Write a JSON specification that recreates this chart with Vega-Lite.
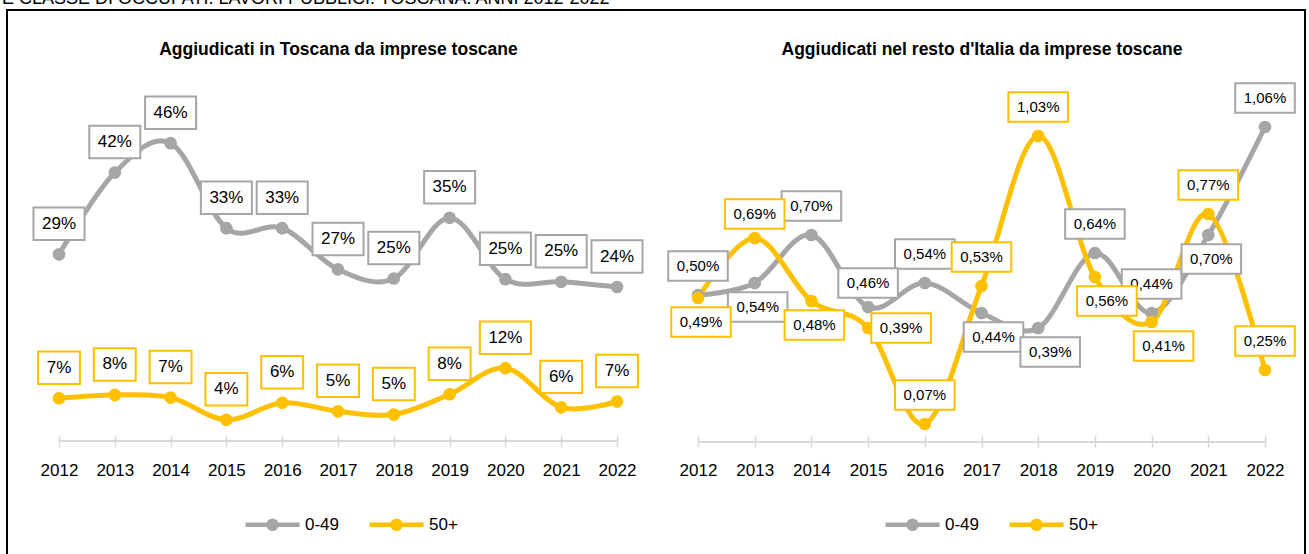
{
  "$schema": "https://vega.github.io/schema/vega-lite/v6.json",
  "autosize": "none",
  "width": 1298,
  "height": 548,
  "padding": {"left": 7, "top": 10, "right": 4, "bottom": 0},
  "background": "white",
  "numberFormat": "d",
  "config": {
    "view": {"stroke": "#000000", "strokeWidth": 2},
    "font": "Liberation Sans",
    "axisX": {
      "orient": "bottom",
      "offset": -123, "domain": false, "ticks": true, "tickSize": 12, "tickColor": "#d9d9d9", "tickWidth": 1.5,
      "tickCount": 11, "labelFontSize": 17, "labelFont": "Liberation Sans", "labelColor": "#000000",
      "labelPadding": 15, "labelFlush": false, "labelOverlap": false, "grid": false,
      "titleFontSize": 17.5, "titleFont": "Liberation Sans", "titleFontWeight": "bold", "titleColor": "#000000",
      "titleY": -386, "titleBaseline": "middle"
    }
  },
  "title": {
    "text": "E CLASSE DI OCCUPATI. LAVORI PUBBLICI. TOSCANA. ANNI 2012-2022",
    "anchor": "start", "frame": "group", "fontSize": 18, "font": "Liberation Sans",
    "fontWeight": "normal", "color": "#000000", "offset": 2, "dx": -5
  },
  "datasets": {
    "left": [
      {"s": "0-49", "year": 2012, "v": 29.0, "label": "29%"},
      {"s": "0-49", "year": 2013, "v": 41.5, "label": "42%"},
      {"s": "0-49", "year": 2014, "v": 46.0, "label": "46%"},
      {"s": "0-49", "year": 2015, "v": 33.0, "label": "33%"},
      {"s": "0-49", "year": 2016, "v": 33.0, "label": "33%"},
      {"s": "0-49", "year": 2017, "v": 26.7, "label": "27%"},
      {"s": "0-49", "year": 2018, "v": 25.3, "label": "25%"},
      {"s": "0-49", "year": 2019, "v": 34.6, "label": "35%"},
      {"s": "0-49", "year": 2020, "v": 25.2, "label": "25%"},
      {"s": "0-49", "year": 2021, "v": 24.8, "label": "25%"},
      {"s": "0-49", "year": 2022, "v": 24.0, "label": "24%"},
      {"s": "50+", "year": 2012, "v": 7.0, "label": "7%"},
      {"s": "50+", "year": 2013, "v": 7.5, "label": "8%"},
      {"s": "50+", "year": 2014, "v": 7.1, "label": "7%"},
      {"s": "50+", "year": 2015, "v": 3.7, "label": "4%"},
      {"s": "50+", "year": 2016, "v": 6.3, "label": "6%"},
      {"s": "50+", "year": 2017, "v": 5.0, "label": "5%"},
      {"s": "50+", "year": 2018, "v": 4.5, "label": "5%"},
      {"s": "50+", "year": 2019, "v": 7.6, "label": "8%"},
      {"s": "50+", "year": 2020, "v": 11.6, "label": "12%"},
      {"s": "50+", "year": 2021, "v": 5.6, "label": "6%"},
      {"s": "50+", "year": 2022, "v": 6.5, "label": "7%"}
    ],
    "right": [
      {"s": "0-49", "year": 2012, "v": 0.50, "label": "0,50%"},
      {"s": "0-49", "year": 2013, "v": 0.54, "label": "0,54%"},
      {"s": "0-49", "year": 2014, "v": 0.70, "label": "0,70%"},
      {"s": "0-49", "year": 2015, "v": 0.46, "label": "0,46%"},
      {"s": "0-49", "year": 2016, "v": 0.54, "label": "0,54%"},
      {"s": "0-49", "year": 2017, "v": 0.44, "label": "0,44%"},
      {"s": "0-49", "year": 2018, "v": 0.39, "label": "0,39%"},
      {"s": "0-49", "year": 2019, "v": 0.64, "label": "0,64%"},
      {"s": "0-49", "year": 2020, "v": 0.44, "label": "0,44%"},
      {"s": "0-49", "year": 2021, "v": 0.70, "label": "0,70%"},
      {"s": "0-49", "year": 2022, "v": 1.06, "label": "1,06%"},
      {"s": "50+", "year": 2012, "v": 0.49, "label": "0,49%"},
      {"s": "50+", "year": 2013, "v": 0.69, "label": "0,69%"},
      {"s": "50+", "year": 2014, "v": 0.48, "label": "0,48%"},
      {"s": "50+", "year": 2015, "v": 0.39, "label": "0,39%"},
      {"s": "50+", "year": 2016, "v": 0.07, "label": "0,07%"},
      {"s": "50+", "year": 2017, "v": 0.53, "label": "0,53%"},
      {"s": "50+", "year": 2018, "v": 1.03, "label": "1,03%"},
      {"s": "50+", "year": 2019, "v": 0.56, "label": "0,56%"},
      {"s": "50+", "year": 2020, "v": 0.41, "label": "0,41%"},
      {"s": "50+", "year": 2021, "v": 0.77, "label": "0,77%"},
      {"s": "50+", "year": 2022, "v": 0.25, "label": "0,25%"}
    ]
  },
  "layer": [
    {
      "data": {"name": "left"},
      "layer": [
        {
          "mark": {"type": "rule", "color": "#d9d9d9", "strokeWidth": 1.5, "yOffset": -3},
          "encoding": {
            "x": {"datum": 2012, "type": "quantitative"},
            "x2": {"datum": 2022},
            "y": {"datum": 0, "type": "quantitative", "axis": null}
          }
        },
        {
          "mark": {"type": "line", "interpolate": "cardinal", "strokeWidth": 5, "strokeCap": "round"},
          "encoding": {
            "x": {"field": "year", "type": "quantitative", "scale": {"domain": [2012, 2022], "range": [52, 610], "nice": false, "zero": false}, "axis": {"orient": "bottom", "format": "d", "title": "Aggiudicati in Toscana da imprese toscane"}},
            "y": {"field": "v", "type": "quantitative", "scale": {"domain": [0, 66.36], "range": [434, 0], "nice": false, "zero": false}, "axis": null},
            "color": {"field": "s", "type": "nominal", "scale": {"domain": ["0-49", "50+"], "range": ["#a6a6a6", "#ffc000"]},
              "legend": {"orient": "none", "legendX": 236, "legendY": 485, "direction": "horizontal", "title": null,
                "symbolType": "M-1,0L1,0M0.15,0A0.15,0.15,0,1,1,-0.15,0A0.15,0.15,0,1,1,0.15,0Z", "symbolSize": 2916, "symbolStrokeWidth": 4.5,
                "labelFontSize": 17, "labelFont": "Liberation Sans", "labelColor": "#000000", "columnPadding": 20, "labelOffset": 3,
                "encode": {"symbols": {"update": {"fill": {"signal": "datum.value === '0-49' ? '#a6a6a6' : '#ffc000'"}, "stroke": {"signal": "datum.value === '0-49' ? '#a6a6a6' : '#ffc000'"}, "opacity": {"value": 1}}}}}}
          }
        },
        {
          "mark": {"type": "circle", "size": 160, "opacity": 1},
          "encoding": {
            "x": {"field": "year", "type": "quantitative"},
            "y": {"field": "v", "type": "quantitative", "axis": null},
            "color": {"field": "s", "type": "nominal"}
          }
        },
        {
          "transform": [{"filter": "length(datum.label) == 2"}],
          "mark": {"type": "point", "shape": "M-1.29,-1L1.29,-1L1.29,1L-1.29,1Z", "size": 1056, "filled": true, "fill": "white", "strokeWidth": 2, "opacity": 1, "yOffset": -30.5},
          "encoding": {
            "x": {"field": "year", "type": "quantitative"},
            "y": {"field": "v", "type": "quantitative", "axis": null},
            "stroke": {"field": "s", "type": "nominal", "scale": {"domain": ["0-49", "50+"], "range": ["#a6a6a6", "#ffc000"]}, "legend": null}
          }
        },
        {
          "transform": [{"filter": "length(datum.label) > 2"}],
          "mark": {"type": "point", "shape": "M-1.57,-1L1.57,-1L1.57,1L-1.57,1Z", "size": 1056, "filled": true, "fill": "white", "strokeWidth": 2, "opacity": 1, "yOffset": -30.5},
          "encoding": {
            "x": {"field": "year", "type": "quantitative"},
            "y": {"field": "v", "type": "quantitative", "axis": null},
            "stroke": {"field": "s", "type": "nominal", "legend": null}
          }
        },
        {
          "mark": {"type": "text", "yOffset": -30.5, "fontSize": 17, "font": "Liberation Sans", "color": "#000000", "baseline": "middle", "align": "center"},
          "encoding": {
            "x": {"field": "year", "type": "quantitative"},
            "y": {"field": "v", "type": "quantitative", "axis": null},
            "text": {"field": "label"}
          }
        }
      ]
    },
    {
      "data": {"name": "right"},
      "layer": [
        {
          "mark": {"type": "rule", "color": "#d9d9d9", "strokeWidth": 1.5, "yOffset": -3},
          "encoding": {
            "x": {"datum": 2012, "type": "quantitative"},
            "x2": {"datum": 2022},
            "y": {"datum": 0, "type": "quantitative", "axis": null}
          }
        },
        {
          "mark": {"type": "line", "interpolate": "cardinal", "strokeWidth": 5, "strokeCap": "round"},
          "encoding": {
            "x": {"field": "year", "type": "quantitative", "scale": {"domain": [2012, 2022], "range": [691, 1258], "nice": false, "zero": false}, "axis": {"orient": "bottom", "format": "d", "title": "Aggiudicati nel resto d'Italia da imprese toscane"}},
            "y": {"field": "v", "type": "quantitative", "scale": {"domain": [0, 1.45], "range": [435, 0], "nice": false, "zero": false}, "axis": null},
            "color": {"field": "s", "type": "nominal", "scale": {"domain": ["0-49", "50+"], "range": ["#a6a6a6", "#ffc000"]},
              "legend": {"orient": "none", "legendX": 876, "legendY": 485, "direction": "horizontal", "title": null,
                "symbolType": "M-1,0L1,0M0.15,0A0.15,0.15,0,1,1,-0.15,0A0.15,0.15,0,1,1,0.15,0Z", "symbolSize": 2916, "symbolStrokeWidth": 4.5,
                "labelFontSize": 17, "labelFont": "Liberation Sans", "labelColor": "#000000", "columnPadding": 20, "labelOffset": 3,
                "encode": {"symbols": {"update": {"fill": {"signal": "datum.value === '0-49' ? '#a6a6a6' : '#ffc000'"}, "stroke": {"signal": "datum.value === '0-49' ? '#a6a6a6' : '#ffc000'"}, "opacity": {"value": 1}}}}}}
          }
        },
        {
          "mark": {"type": "circle", "size": 160, "opacity": 1},
          "encoding": {
            "x": {"field": "year", "type": "quantitative"},
            "y": {"field": "v", "type": "quantitative", "axis": null},
            "color": {"field": "s", "type": "nominal"}
          }
        },
        {
          "transform": [{"filter": "indexof(['0-49|2012','0-49|2014','0-49|2016','0-49|2019','0-49|2020','0-49|2022','50+|2016','50+|2017','50+|2018','50+|2021','50+|2022'], datum.s + '|' + datum.year) >= 0"}],
          "layer": [
            {
              "mark": {"type": "point", "shape": "M-2.02,-1L2.02,-1L2.02,1L-2.02,1Z", "size": 870, "filled": true, "fill": "white", "strokeWidth": 2, "opacity": 1, "yOffset": -29},
              "encoding": {
                "x": {"field": "year", "type": "quantitative"},
                "y": {"field": "v", "type": "quantitative", "axis": null},
                "stroke": {"field": "s", "type": "nominal", "scale": {"domain": ["0-49", "50+"], "range": ["#a6a6a6", "#ffc000"]}, "legend": null}
              }
            },
            {
              "mark": {"type": "text", "yOffset": -29, "fontSize": 15, "font": "Liberation Sans", "color": "#000000", "baseline": "middle", "align": "center"},
              "encoding": {
                "x": {"field": "year", "type": "quantitative"},
                "y": {"field": "v", "type": "quantitative", "axis": null},
                "text": {"field": "label"}
              }
            }
          ]
        },
        {
          "transform": [{"filter": "indexof(['0-49|2015','50+|2013'], datum.s + '|' + datum.year) >= 0"}],
          "layer": [
            {
              "mark": {"type": "point", "shape": "M-2.02,-1L2.02,-1L2.02,1L-2.02,1Z", "size": 870, "filled": true, "fill": "white", "strokeWidth": 2, "opacity": 1, "yOffset": -24},
              "encoding": {
                "x": {"field": "year", "type": "quantitative"},
                "y": {"field": "v", "type": "quantitative", "axis": null},
                "stroke": {"field": "s", "type": "nominal", "legend": null}
              }
            },
            {
              "mark": {"type": "text", "yOffset": -24, "fontSize": 15, "font": "Liberation Sans", "color": "#000000", "baseline": "middle", "align": "center"},
              "encoding": {
                "x": {"field": "year", "type": "quantitative"},
                "y": {"field": "v", "type": "quantitative", "axis": null},
                "text": {"field": "label"}
              }
            }
          ]
        },
        {
          "transform": [{"filter": "indexof(['0-49|2013','0-49|2021','50+|2012','50+|2014'], datum.s + '|' + datum.year) >= 0"}],
          "layer": [
            {
              "mark": {"type": "point", "shape": "M-2.02,-1L2.02,-1L2.02,1L-2.02,1Z", "size": 870, "filled": true, "fill": "white", "strokeWidth": 2, "opacity": 1, "yOffset": 24, "xOffset": 3},
              "encoding": {
                "x": {"field": "year", "type": "quantitative"},
                "y": {"field": "v", "type": "quantitative", "axis": null},
                "stroke": {"field": "s", "type": "nominal", "legend": null}
              }
            },
            {
              "mark": {"type": "text", "yOffset": 24, "xOffset": 3, "fontSize": 15, "font": "Liberation Sans", "color": "#000000", "baseline": "middle", "align": "center"},
              "encoding": {
                "x": {"field": "year", "type": "quantitative"},
                "y": {"field": "v", "type": "quantitative", "axis": null},
                "text": {"field": "label"}
              }
            }
          ]
        },
        {
          "transform": [{"filter": "indexof(['0-49|2017','0-49|2018','50+|2019','50+|2020'], datum.s + '|' + datum.year) >= 0"}],
          "layer": [
            {
              "mark": {"type": "point", "shape": "M-2.02,-1L2.02,-1L2.02,1L-2.02,1Z", "size": 870, "filled": true, "fill": "white", "strokeWidth": 2, "opacity": 1, "yOffset": 24, "xOffset": 12},
              "encoding": {
                "x": {"field": "year", "type": "quantitative"},
                "y": {"field": "v", "type": "quantitative", "axis": null},
                "stroke": {"field": "s", "type": "nominal", "legend": null}
              }
            },
            {
              "mark": {"type": "text", "yOffset": 24, "xOffset": 12, "fontSize": 15, "font": "Liberation Sans", "color": "#000000", "baseline": "middle", "align": "center"},
              "encoding": {
                "x": {"field": "year", "type": "quantitative"},
                "y": {"field": "v", "type": "quantitative", "axis": null},
                "text": {"field": "label"}
              }
            }
          ]
        },
        {
          "transform": [{"filter": "datum.s == '50+' && datum.year == 2015"}],
          "layer": [
            {
              "mark": {"type": "point", "shape": "M-2.02,-1L2.02,-1L2.02,1L-2.02,1Z", "size": 870, "filled": true, "fill": "white", "strokeWidth": 2, "opacity": 1, "xOffset": 33},
              "encoding": {
                "x": {"field": "year", "type": "quantitative"},
                "y": {"field": "v", "type": "quantitative", "axis": null},
                "stroke": {"field": "s", "type": "nominal", "legend": null}
              }
            },
            {
              "mark": {"type": "text", "xOffset": 33, "fontSize": 15, "font": "Liberation Sans", "color": "#000000", "baseline": "middle", "align": "center"},
              "encoding": {
                "x": {"field": "year", "type": "quantitative"},
                "y": {"field": "v", "type": "quantitative", "axis": null},
                "text": {"field": "label"}
              }
            }
          ]
        }
      ]
    }
  ],
  "resolve": {
    "scale": {"x": "independent", "y": "independent", "color": "independent", "stroke": "independent"},
    "axis": {"x": "independent", "y": "independent"},
    "legend": {"color": "independent"}
  }
}
